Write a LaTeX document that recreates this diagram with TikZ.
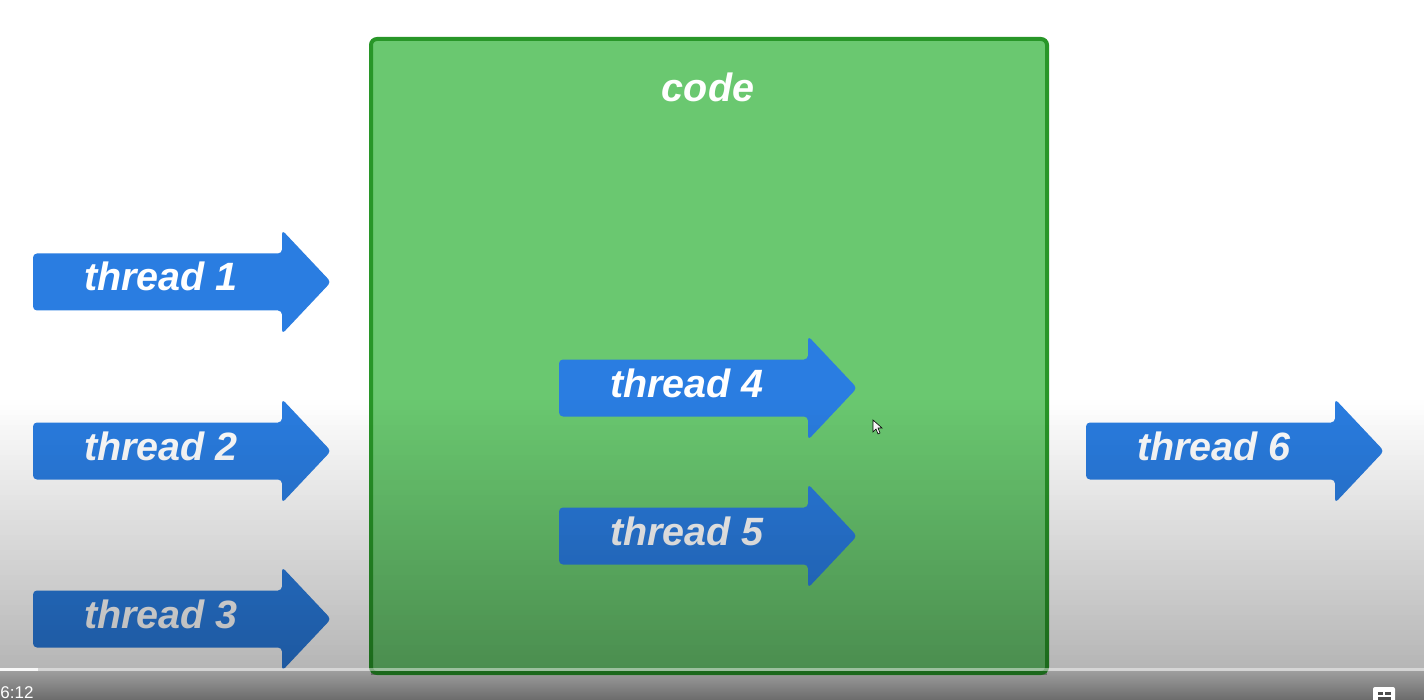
\documentclass[tikz,border=0pt]{standalone}
\usepackage{fontspec}
\setmainfont{Liberation Sans}
\definecolor{tblue}{RGB}{42,125,225}
\definecolor{cfill}{RGB}{106,200,112}
\definecolor{cline}{RGB}{40,150,40}
\tikzset{
  arrowbody/.style={fill=tblue, rounded corners=2pt},
  tlabel/.style={text=white, font=\fontsize{19.75}{20}\selectfont\bfseries\itshape, anchor=base, inner sep=0pt},
}
\newcommand\threadarrow[4]{%
  \path[arrowbody] (#2,#3-28.5) -- (#2+249,#3-28.5) -- (#2+249,#3-52) -- (#2+298,#3) -- (#2+249,#3+52) -- (#2+249,#3+28.5) -- (#2,#3+28.5) -- cycle;
  \node[tlabel] (#1) at (#2+128,#3+9) {#4};
}
\begin{document}
\begin{tikzpicture}[x=0.5pt,y=-0.5pt]
\useasboundingbox (0,0) rectangle (1424,700);
% bottom bar (under everything)
\shade[top color=black!36, bottom color=black!58] (0,668) rectangle (1424,700);
\fill[white] (0,0) rectangle (1424,671);
% code box
\node[draw=cline, line width=2pt, fill=cfill, rounded corners=3pt, minimum width=338pt, minimum height=317pt, inner sep=0pt] (codebox) at (709,356) {};
\node[tlabel] (code) at (708,102) {code};
% arrows
\threadarrow{t1}{33}{282}{thread 1}
\threadarrow{t2}{33}{451}{thread 2}
\threadarrow{t3}{33}{619}{thread 3}
\threadarrow{t4}{559}{388}{thread 4}
\threadarrow{t5}{559}{536}{thread 5}
\threadarrow{t6}{1086}{451}{thread 6}
% mouse cursor
\path[fill=white, draw=black, line width=0.3pt] (873,420) -- (873,432) -- (876,429) -- (878,434) -- (880,433) -- (878,428) -- (882,428) -- cycle;
% video overlay darkening
\foreach \i in {0,...,53} {
  \pgfmathsetmacro\op{0.29*(\i+0.5)/54}
  \fill[black, fill opacity=\op] (0,400+5*\i) rectangle (1424,405+5*\i);
}
\fill[black, fill opacity=0.3] (0,670) rectangle (1424,671);
\fill[black, fill opacity=0.3] (371,671) rectangle (1047,675);
% progress line
\fill[white, fill opacity=0.45] (0,667.5) rectangle (1424,671);
\fill[white, fill opacity=0.85] (0,667.5) rectangle (38,671);
\node[text=white, font=\fontsize{8.5}{9}\selectfont, anchor=base west, inner sep=0pt] (time) at (0,698) {6:12};
\fill[white, rounded corners=1pt] (1373,687) rectangle (1395,702);
\fill[black!70] (1378,692) rectangle (1383,694.5);
\fill[black!70] (1385,692) rectangle (1391,694.5);
\fill[black!70] (1378,697) rectangle (1391,699.5);
\end{tikzpicture}
\end{document}
